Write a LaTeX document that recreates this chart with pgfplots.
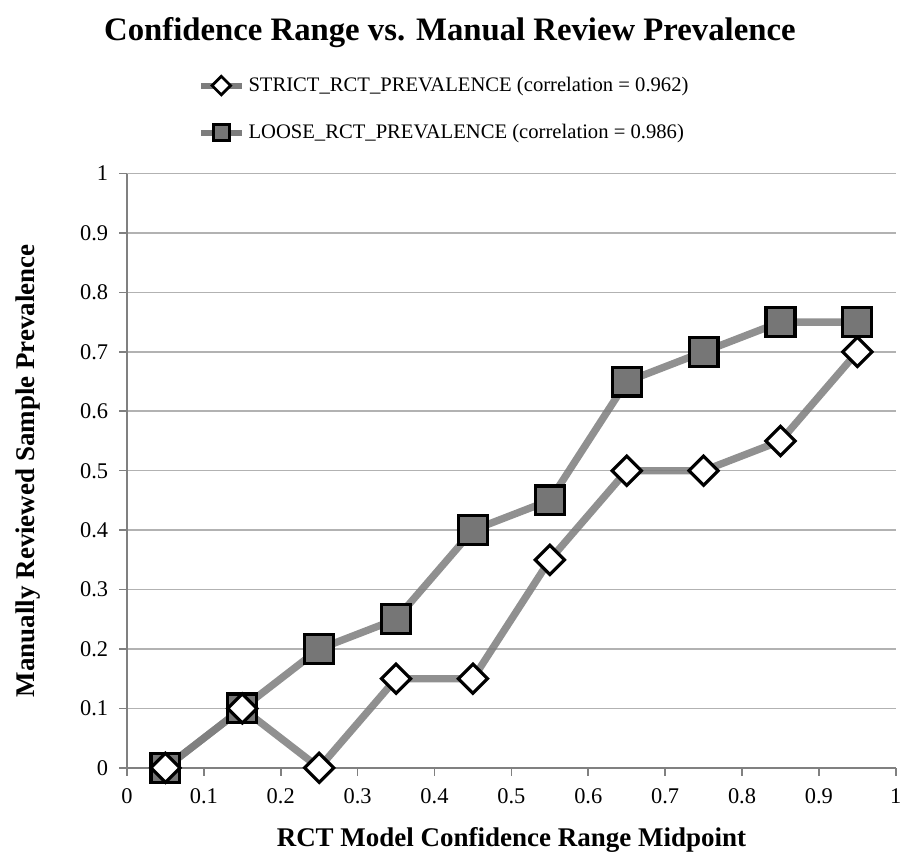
\documentclass[border=0pt]{standalone}
\usepackage{fontspec}
\setmainfont{Liberation Serif}
\usepackage{pgfplots}
\pgfplotsset{compat=1.18}
\definecolor{linegray}{RGB}{125,125,125}
\definecolor{sqfill}{RGB}{118,118,118}
\begin{document}
\begin{tikzpicture}
\path (-64bp,-40.5bp) rectangle (390bp,387bp);
\begin{axis}[
  at={(0,0)}, anchor=south west,
  scale only axis, width=387.5bp, height=299.5bp,
  xmin=0, xmax=1, ymin=0, ymax=1,
  xtick={0,0.1,...,1}, ytick={0,0.1,...,1},
  xticklabels={0,0.1,0.2,0.3,0.4,0.5,0.6,0.7,0.8,0.9,1},
  yticklabels={0,0.1,0.2,0.3,0.4,0.5,0.6,0.7,0.8,0.9,1},
  axis lines*=left,
  axis line style={gray, line width=0.8pt},
  tick style={gray, line width=0.8pt},
  tick align=outside, major tick length=4bp,
  ymajorgrids, grid style={gray!60, line width=0.8pt},
  ticklabel style={font=\fontsize{11.3bp}{13bp}\selectfont},
  xticklabel style={yshift=-3bp},
  yticklabel style={xshift=-2bp},
  xlabel={\textbf{RCT Model Confidence Range Midpoint}},
  ylabel={\textbf{Manually Reviewed Sample Prevalence}},
  label style={font=\fontsize{13.6bp}{16bp}\selectfont},
  xlabel style={yshift=-5bp},
  ylabel style={yshift=13bp},
  title={\textbf{Confidence Range vs. Manual Review Prevalence}},
  title style={font=\fontsize{16.5bp}{19bp}\selectfont, at={(0.42,1)}, yshift=54bp},
  clip=false,
  legend style={at={(0.092,1.17)}, anchor=north west, draw=none, fill=none,
    font=\fontsize{10.4bp}{12bp}\selectfont, row sep=11bp, inner sep=0pt,
    /tikz/every even column/.append style={column sep=2bp}},
  legend image code/.code={
    \draw[#1, mark repeat=2, mark phase=2] plot coordinates {(0cm,0cm) (0.36cm,0cm) (0.72cm,0cm)};},
  legend cell align=left,
]
\addlegendimage{linegray, line width=3bp, mark=square*, mark size=3.3bp,
  mark options={rotate=45, fill=white, draw=black, line width=1.4bp}}
\addlegendentry{STRICT\_RCT\_PREVALENCE (correlation = 0.962)}
\addlegendimage{linegray, line width=3bp, mark=square*, mark size=4bp,
  mark options={fill=sqfill, draw=black, line width=1.4bp}}
\addlegendentry{LOOSE\_RCT\_PREVALENCE (correlation = 0.986)}

% loose markers
\addplot[only marks, mark=square*, mark size=7.3bp,
  mark options={fill=sqfill, draw=black, line width=1.6bp}, forget plot] coordinates {
(0.05,0) (0.15,0.1) (0.25,0.2) (0.35,0.25) (0.45,0.4) (0.55,0.45) (0.65,0.65) (0.75,0.7) (0.85,0.75) (0.95,0.75)};
% loose line
\addplot[linegray, line width=3.7bp, opacity=0.85, forget plot] coordinates {
(0.05,0) (0.15,0.1) (0.25,0.2) (0.35,0.25) (0.45,0.4) (0.55,0.45) (0.65,0.65) (0.75,0.7) (0.85,0.75) (0.95,0.75)};
% strict markers
\addplot[only marks, mark=square*, mark size=5.2bp,
  mark options={rotate=45, fill=white, draw=black, line width=1.6bp}, forget plot] coordinates {
(0.05,0) (0.15,0.1) (0.25,0) (0.35,0.15) (0.45,0.15) (0.55,0.35) (0.65,0.5) (0.75,0.5) (0.85,0.55) (0.95,0.7)};
% strict line
\addplot[linegray, line width=3.7bp, opacity=0.85, forget plot] coordinates {
(0.05,0) (0.15,0.1) (0.25,0) (0.35,0.15) (0.45,0.15) (0.55,0.35) (0.65,0.5) (0.75,0.5) (0.85,0.55) (0.95,0.7)};
\end{axis}
\end{tikzpicture}
\end{document}
